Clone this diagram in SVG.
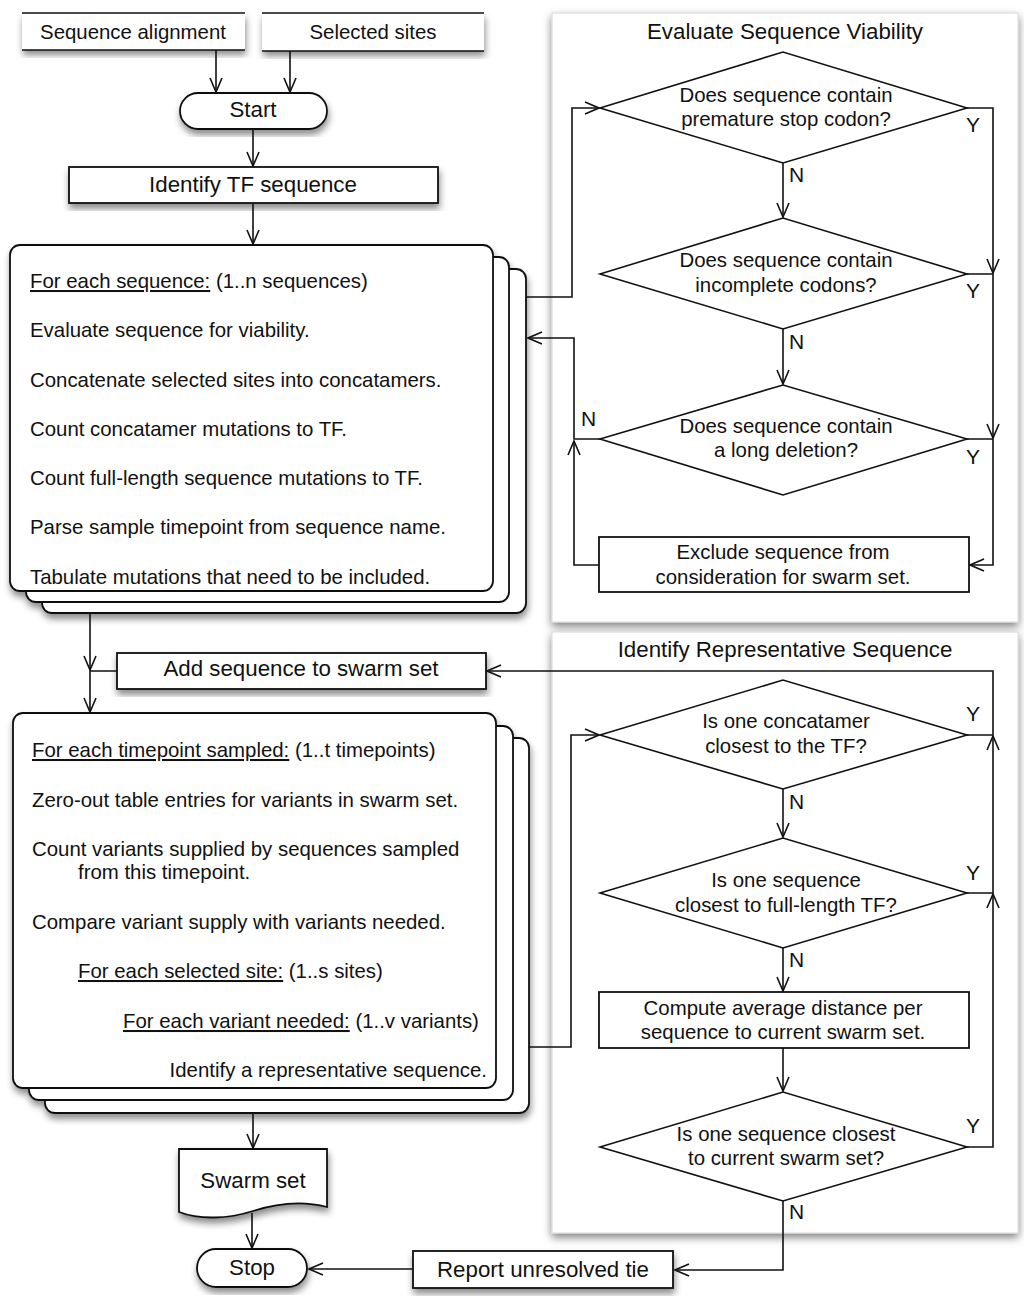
<svg xmlns="http://www.w3.org/2000/svg" width="1024" height="1297" viewBox="0 0 1024 1297">
<defs>
<style>
text{font-family:"Liberation Sans",Arial,Helvetica,sans-serif;fill:#111;}
.t20{font-size:20.4px;}
.t22{font-size:22.3px;}
.lbl{font-size:21px;}
.c{text-anchor:middle;}
.r{text-anchor:end;}
.box{fill:#fff;stroke:#111;stroke-width:1.8;}
.card{fill:#fff;stroke:#111;stroke-width:1.8;}
.dia{fill:#fff;stroke:#111;stroke-width:1.6;}
.panel{fill:#fff;stroke:#d8d8d8;stroke-width:1;}
.edge{fill:none;stroke:#111;stroke-width:1.6;}
.arr{fill:none;stroke:#111;stroke-width:1.6;marker-end:url(#ah);}
.u{text-decoration:underline;}
</style>
<marker id="ah" viewBox="0 0 16 14" refX="15" refY="7" markerWidth="16" markerHeight="14" markerUnits="userSpaceOnUse" orient="auto">
<path d="M1,1 L15,7 L1,13" fill="none" stroke="#111" stroke-width="1.6"/>
</marker>
<filter id="sh" x="-10%" y="-10%" width="120%" height="130%">
<feDropShadow dx="1" dy="5" stdDeviation="3.5" flood-color="#000" flood-opacity="0.45"/>
</filter>
<filter id="psh" x="-5%" y="-5%" width="110%" height="110%">
<feDropShadow dx="0" dy="4" stdDeviation="4" flood-color="#000" flood-opacity="0.5"/>
</filter>
</defs>
<rect width="1024" height="1297" fill="#fff"/>

<g id="panel-viability">
<rect class="panel" x="552" y="13" width="466" height="609" filter="url(#psh)"/>
<text class="t22 c" x="785" y="39">Evaluate Sequence Viability</text>
</g>
<g id="panel-representative">
<rect class="panel" x="552" y="632" width="466" height="601" filter="url(#psh)"/>
<text class="t22 c" x="785" y="657">Identify Representative Sequence</text>
</g>

<g id="input-alignment">
<rect x="22" y="13" width="223" height="37" fill="#fff" filter="url(#sh)"/>
<path class="edge" d="M22,13 H245 M22,50 H245" stroke-width="2"/>
<text class="t20 c" x="133" y="39">Sequence alignment</text>
</g>
<g id="input-sites">
<rect x="262" y="13" width="222" height="38" fill="#fff" filter="url(#sh)"/>
<path class="edge" d="M262,13 H484 M262,51 H484" stroke-width="2"/>
<text class="t20 c" x="373" y="39">Selected sites</text>
</g>

<g id="start">
<rect class="box" x="180" y="93" width="147" height="36" rx="18" filter="url(#sh)"/>
<text class="t22 c" x="253" y="117">Start</text>
</g>

<g id="identify-tf">
<rect class="box" x="69" y="167" width="369" height="36" filter="url(#sh)"/>
<text class="t22 c" x="253" y="192">Identify TF sequence</text>
</g>

<g id="loop-sequences">
<g filter="url(#sh)">
<rect class="card" x="42" y="269" width="484" height="344" rx="10"/>
<rect class="card" x="26" y="257" width="483" height="345" rx="10"/>
<rect class="card" x="10" y="245" width="483" height="346" rx="10"/>
</g>
<text class="t20" x="30" y="288"><tspan class="u">For each sequence:</tspan> (1..n sequences)</text>
<text class="t20" x="30" y="337">Evaluate sequence for viability.</text>
<text class="t20" x="30" y="387">Concatenate selected sites into concatamers.</text>
<text class="t20" x="30" y="436">Count concatamer mutations to TF.</text>
<text class="t20" x="30" y="485">Count full-length sequence mutations to TF.</text>
<text class="t20" x="30" y="534">Parse sample timepoint from sequence name.</text>
<text class="t20" x="30" y="584">Tabulate mutations that need to be included.</text>
</g>

<g id="add-swarm">
<rect class="box" x="117" y="653" width="369" height="36" filter="url(#sh)"/>
<text class="t22 c" x="301" y="676">Add sequence to swarm set</text>
</g>

<g id="loop-timepoints">
<g filter="url(#sh)">
<rect class="card" x="45" y="738" width="484" height="375" rx="10"/>
<rect class="card" x="29" y="726" width="484" height="374" rx="10"/>
<rect class="card" x="13" y="713" width="483" height="375" rx="10"/>
</g>
<text class="t20" x="32" y="757"><tspan class="u">For each timepoint sampled:</tspan> (1..t timepoints)</text>
<text class="t20" x="32" y="807">Zero-out table entries for variants in swarm set.</text>
<text class="t20" x="32" y="856">Count variants supplied by sequences sampled</text>
<text class="t20" x="78" y="879">from this timepoint.</text>
<text class="t20" x="32" y="929">Compare variant supply with variants needed.</text>
<text class="t20" x="78" y="978"><tspan class="u">For each selected site:</tspan> (1..s sites)</text>
<text class="t20" x="123" y="1028"><tspan class="u">For each variant needed:</tspan> (1..v variants)</text>
<text class="t20 r" x="487" y="1077">Identify a representative sequence.</text>
</g>

<g id="swarm-set">
<path class="box" d="M179,1149 H327 V1207 C300,1200 275,1204 253,1211 C228,1219 200,1220 179,1212 Z" filter="url(#sh)"/>
<text class="t22 c" x="253" y="1188">Swarm set</text>
</g>

<g id="stop">
<rect class="box" x="197" y="1249" width="110" height="38" rx="19" filter="url(#sh)"/>
<text class="t22 c" x="252" y="1275">Stop</text>
</g>

<g id="report-tie">
<rect class="box" x="413" y="1251" width="260" height="37" filter="url(#sh)"/>
<text class="t22 c" x="543" y="1277">Report unresolved tie</text>
</g>

<g id="dec-stop-codon">
<path class="dia" d="M600,108 L783,52 L967,108 L783,163 Z"/>
<text class="t20 c" x="786" y="102">Does sequence contain</text>
<text class="t20 c" x="786" y="126">premature stop codon?</text>
</g>
<g id="dec-incomplete">
<path class="dia" d="M600,274 L783,218 L967,274 L783,329 Z"/>
<text class="t20 c" x="786" y="267">Does sequence contain</text>
<text class="t20 c" x="786" y="292">incomplete codons?</text>
</g>
<g id="dec-deletion">
<path class="dia" d="M600,439 L783,385 L967,439 L783,495 Z"/>
<text class="t20 c" x="786" y="433">Does sequence contain</text>
<text class="t20 c" x="786" y="457">a long deletion?</text>
</g>
<g id="exclude">
<rect class="box" x="599" y="537" width="370" height="55"/>
<text class="t20 c" x="783" y="559">Exclude sequence from</text>
<text class="t20 c" x="783" y="584">consideration for swarm set.</text>
</g>

<g id="dec-concatamer">
<path class="dia" d="M600,735 L783,680 L967,735 L783,789 Z"/>
<text class="t20 c" x="786" y="728">Is one concatamer</text>
<text class="t20 c" x="786" y="753">closest to the TF?</text>
</g>
<g id="dec-fulllength">
<path class="dia" d="M600,893 L783,838 L967,893 L783,948 Z"/>
<text class="t20 c" x="786" y="887">Is one sequence</text>
<text class="t20 c" x="786" y="912">closest to full-length TF?</text>
</g>
<g id="compute-distance">
<rect class="box" x="599" y="992" width="370" height="56"/>
<text class="t20 c" x="783" y="1015">Compute average distance per</text>
<text class="t20 c" x="783" y="1039">sequence to current swarm set.</text>
</g>
<g id="dec-swarm">
<path class="dia" d="M600,1147 L783,1092 L967,1147 L783,1201 Z"/>
<text class="t20 c" x="786" y="1141">Is one sequence closest</text>
<text class="t20 c" x="786" y="1165">to current swarm set?</text>
</g>

<g id="connectors">
<path class="arr" d="M216,50 V92"/>
<path class="arr" d="M290,51 V92"/>
<path class="arr" d="M253,129 V166"/>
<path class="arr" d="M253,203 V244"/>
<path class="arr" d="M526,297 H572 V108 H599"/>
<path class="arr" d="M783,163 V217"/>
<path class="arr" d="M783,329 V384"/>
<path class="arr" d="M967,108 H993 V273"/>
<path class="arr" d="M967,274 H993 V438"/>
<path class="arr" d="M967,439 H993 V565 H970"/>
<path class="arr" d="M599,565 H574 V441"/>
<path class="arr" d="M600,439 H574 V338 H528"/>
<path class="arr" d="M90,613 V670"/>
<path class="arr" d="M117,671 H90 V712"/>
<path class="arr" d="M529,1047 H571 V735 H599"/>
<path class="arr" d="M783,789 V837"/>
<path class="arr" d="M783,948 V991"/>
<path class="arr" d="M783,1048 V1091"/>
<path class="arr" d="M967,1147 H993 V894"/>
<path class="arr" d="M967,893 H993 V736"/>
<path class="arr" d="M967,735 H993 V671 H487"/>
<path class="arr" d="M783,1201 V1270 H675"/>
<path class="arr" d="M413,1269 H309"/>
<path class="arr" d="M253,1113 V1148"/>
<path class="arr" d="M252,1213 V1248"/>
<text class="lbl" x="966" y="132">Y</text>
<text class="lbl" x="966" y="298">Y</text>
<text class="lbl" x="966" y="464">Y</text>
<text class="lbl" x="789" y="182">N</text>
<text class="lbl" x="789" y="349">N</text>
<text class="lbl" x="581" y="426">N</text>
<text class="lbl" x="966" y="721">Y</text>
<text class="lbl" x="966" y="880">Y</text>
<text class="lbl" x="966" y="1133">Y</text>
<text class="lbl" x="789" y="809">N</text>
<text class="lbl" x="789" y="967">N</text>
<text class="lbl" x="789" y="1219">N</text>
</g>
</svg>
